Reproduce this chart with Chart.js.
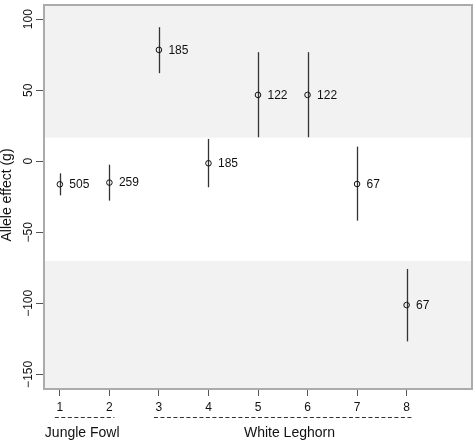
<!DOCTYPE html>
<html>
<head>
<meta charset="utf-8">
<script src="https://cdn.jsdelivr.net/npm/chart.js@4.4.1/dist/chart.umd.min.js"></script>
<style>
  html, body { margin: 0; padding: 0; background: #ffffff; }
  #wrap { width: 476px; height: 442px; }
</style>
</head>
<body>
<div id="wrap"><canvas id="c" width="476" height="442"></canvas></div>
<script>
// ---- data ----
const positions = [1, 2, 3, 4, 5, 6, 7, 8];
const effect    = [-16.2, -15.0, 78.4, -1.4, 46.7, 46.7, -16.0, -101.2];
const lower     = [-24.0, -27.7, 62.0, -18.3, 16.9, 16.9, -41.8, -126.8];
const upper     = [-8.5, -2.4, 94.4, 15.7, 76.8, 76.8, 10.3, -75.8];
const counts    = ['505', '259', '185', '185', '122', '122', '67', '67'];
const xTicks    = [1, 2, 3, 4, 5, 6, 7, 8];
const yTicks    = [-150, -100, -50, 0, 50, 100];
const groupNames = ['Jungle Fowl', 'White Leghorn'];
const groupStart = [1, 3];
const groupEnd   = [2, 8];
const shadeAbove = 16.6;   // upper shaded region starts here
const shadeBelow = -70.2;  // lower shaded region ends here
const yTitle = 'Allele effect (g)';

const FONT = '"Liberation Sans", Arial, Helvetica, sans-serif';

const decor = {
  id: 'decor',
  beforeDatasetsDraw(chart) {
    const {ctx, chartArea: a, scales: {x, y}} = chart;
    ctx.save();
    ctx.fillStyle = '#f2f2f2';
    const yA = y.getPixelForValue(shadeAbove);
    ctx.fillRect(a.left, a.top, a.right - a.left, yA - a.top);
    const yB = y.getPixelForValue(shadeBelow);
    ctx.fillRect(a.left, yB, a.right - a.left, a.bottom - yB);
    // error bars
    ctx.strokeStyle = '#333333';
    ctx.lineWidth = 1.3;
    positions.forEach((p, i) => {
      const px = Math.round(x.getPixelForValue(p)) + 0.5;
      ctx.beginPath();
      ctx.moveTo(px, y.getPixelForValue(upper[i]));
      ctx.lineTo(px, y.getPixelForValue(lower[i]));
      ctx.stroke();
    });
    ctx.restore();
  },
  afterDatasetsDraw(chart) {
    const {ctx, scales: {x, y}} = chart;
    ctx.save();
    ctx.fillStyle = '#111111';
    ctx.font = '12px ' + FONT;
    ctx.textAlign = 'left';
    ctx.textBaseline = 'middle';
    positions.forEach((p, i) => {
      ctx.fillText(counts[i], x.getPixelForValue(p) + 9.5, y.getPixelForValue(effect[i]) + 0.5);
    });
    ctx.restore();
  },
  afterDraw(chart) {
    const {ctx, chartArea: a, scales: {x}} = chart;
    ctx.save();
    // box
    ctx.strokeStyle = '#ababab';
    ctx.lineWidth = 2;
    ctx.strokeRect(a.left, a.top, a.right - a.left, a.bottom - a.top);
    // group dashed lines
    ctx.strokeStyle = '#333333';
    ctx.lineWidth = 1;
    ctx.setLineDash([4, 2.5]);
    groupNames.forEach((g, i) => {
      ctx.beginPath();
      ctx.moveTo(x.getPixelForValue(groupStart[i]) - 5, 417.5);
      ctx.lineTo(x.getPixelForValue(groupEnd[i]) + 5, 417.5);
      ctx.stroke();
    });
    ctx.setLineDash([]);
    // group names
    ctx.fillStyle = '#111111';
    ctx.font = '14px ' + FONT;
    ctx.textBaseline = 'alphabetic';
    ctx.textAlign = 'left';
    ctx.fillText(groupNames[0], x.getPixelForValue(groupStart[0]) - 15, 437);
    ctx.fillText(groupNames[1], x.getPixelForValue(groupStart[1]) + 85, 437);
    // y title
    ctx.translate(10.5, (a.top + a.bottom) / 2 - 2);
    ctx.rotate(-Math.PI / 2);
    ctx.textAlign = 'center';
    ctx.fillText(yTitle, 0, 0);
    ctx.restore();
  }
};

new Chart(document.getElementById('c'), {
  type: 'scatter',
  data: {
    datasets: [{
      data: positions.map((p, i) => ({x: p, y: effect[i]})),
      pointStyle: 'circle',
      pointRadius: 2.8,
      pointHoverRadius: 2.8,
      borderColor: '#111111',
      backgroundColor: 'rgba(0,0,0,0)',
      borderWidth: 1
    }]
  },
  options: {
    responsive: false,
    animation: false,
    devicePixelRatio: 1,
    layout: {padding: {top: 5, right: 4, left: 0, bottom: 0}},
    plugins: {legend: {display: false}, tooltip: {enabled: false}},
    scales: {
      x: {
        type: 'linear',
        min: 0.68,
        max: 9.32,
        afterBuildTicks: s => { s.ticks = xTicks.map(v => ({value: v})); },
        afterFit: s => { s.height = 53; },
        grid: {drawOnChartArea: false, drawTicks: true, tickLength: 7, color: '#555555', lineWidth: 1},
        border: {display: false},
        ticks: {
          autoSkip: false,
          maxRotation: 0,
          padding: 4,
          color: '#111111',
          font: {family: FONT, size: 12},
          callback: v => String(v)
        }
      },
      y: {
        type: 'linear',
        min: -160.3,
        max: 110,
        afterBuildTicks: s => { s.ticks = yTicks.map(v => ({value: v})); },
        afterFit: s => { s.width = 44; },
        grid: {drawOnChartArea: false, drawTicks: true, tickLength: 8, color: '#555555', lineWidth: 1},
        border: {display: false},
        ticks: {
          autoSkip: false,
          minRotation: 90,
          maxRotation: 90,
          crossAlign: 'center',
          padding: -6,
          color: '#111111',
          font: {family: FONT, size: 12},
          callback: v => (v < 0 ? '\u2212' + Math.abs(v) : String(v))
        }
      }
    }
  },
  plugins: [decor]
});
</script>
</body>
</html>
